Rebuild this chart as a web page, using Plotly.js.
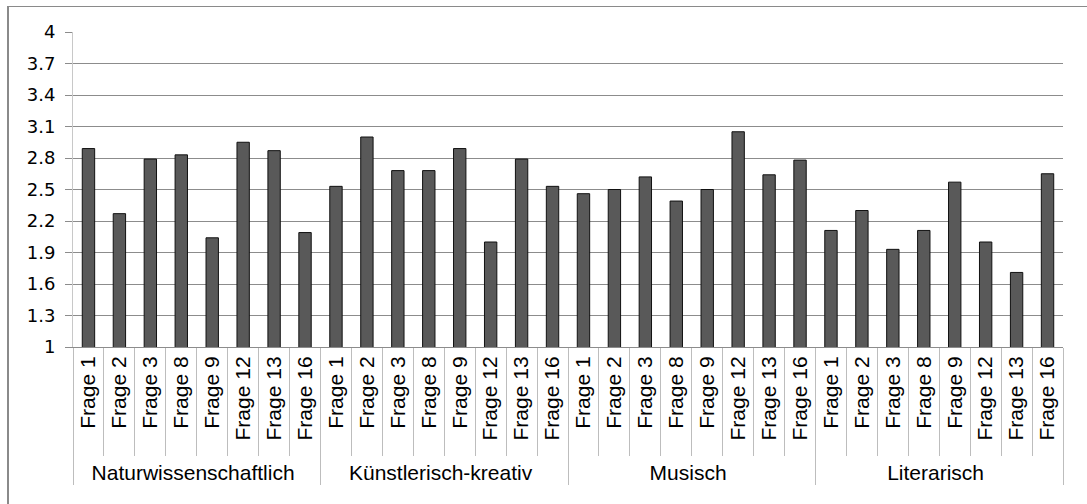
<!DOCTYPE html>
<html>
<head>
<meta charset="utf-8">
<script src="https://cdn.plot.ly/plotly-3.0.1.min.js"></script>
<style>
  html, body { margin: 0; padding: 0; background: #fff; }
  #wrap { position: relative; width: 1087px; height: 504px; }
  #chart { width: 1087px; height: 504px; }
  #frame { position: absolute; left: 7px; top: 6px; right: 0; bottom: 0;
           border-left: 2px solid #8a8a8a; border-top: 1px solid #8a8a8a; pointer-events: none; }
</style>
</head>
<body>
<div id="wrap">
  <div id="chart"></div>
  <div id="frame"></div>
</div>
<script>
const groups = ['Naturwissenschaftlich', 'Künstlerisch-kreativ', 'Musisch', 'Literarisch'];
const questions = ['Frage 1', 'Frage 2', 'Frage 3', 'Frage 8', 'Frage 9', 'Frage 12', 'Frage 13', 'Frage 16'];
const naturwissenschaftlich = [2.89, 2.27, 2.79, 2.83, 2.04, 2.95, 2.87, 2.09];
const kuenstlerisch = [2.53, 3.00, 2.68, 2.68, 2.89, 2.00, 2.79, 2.53];
const musisch = [2.46, 2.50, 2.62, 2.39, 2.50, 3.05, 2.64, 2.78];
const literarisch = [2.11, 2.30, 1.93, 2.11, 2.57, 2.00, 1.71, 2.65];
const yTicks = [1, 1.3, 1.6, 1.9, 2.2, 2.5, 2.8, 3.1, 3.4, 3.7, 4];

const seriesByGroup = [naturwissenschaftlich, kuenstlerisch, musisch, literarisch];
const xOuter = [], xInner = [], yVals = [];
groups.forEach((g, gi) => {
  questions.forEach((q, qi) => {
    xOuter.push(g);
    xInner.push(q);
    yVals.push(seriesByGroup[gi][qi]);
  });
});

const trace = {
  type: 'bar',
  x: [xOuter, xInner],
  y: yVals,
  marker: { color: '#595959', line: { color: '#111', width: 1 } },
  width: 0.4,
  hoverinfo: 'skip'
};

const layout = {
  width: 1087, height: 504,
  margin: { l: 73, r: 24, t: 32, b: 157 },
  paper_bgcolor: '#fff', plot_bgcolor: '#fff',
  showlegend: false,
  font: { family: 'Liberation Sans, Arial, sans-serif', color: '#000', size: 21 },
  xaxis: {
    type: 'multicategory',
    tickangle: -90,
    tickfont: { size: 21, color: '#000' },
    ticks: 'outside', ticklen: 108, tickcolor: '#bdbdbd', tickwidth: 1,
    showline: true, linecolor: '#8c8c8c', linewidth: 1,
    showdividers: true, dividercolor: '#bdbdbd', dividerwidth: 1,
    showgrid: false
  },
  yaxis: {
    range: [1, 4],
    tickvals: yTicks,
    ticktext: yTicks.map(v => String(v)),
    tickfont: { size: 18, color: '#000', family: 'DejaVu Sans, sans-serif' },
    ticks: 'outside', ticklen: 7, tickcolor: '#8c8c8c',
    ticklabelstandoff: 6,
    showgrid: true, gridcolor: '#8c8c8c', gridwidth: 1,
    showline: true, linecolor: '#c8c8c8', linewidth: 1,
    zeroline: false
  }
};

Plotly.newPlot('chart', [trace], layout, { staticPlot: true, displayModeBar: false });
</script>
</body>
</html>
